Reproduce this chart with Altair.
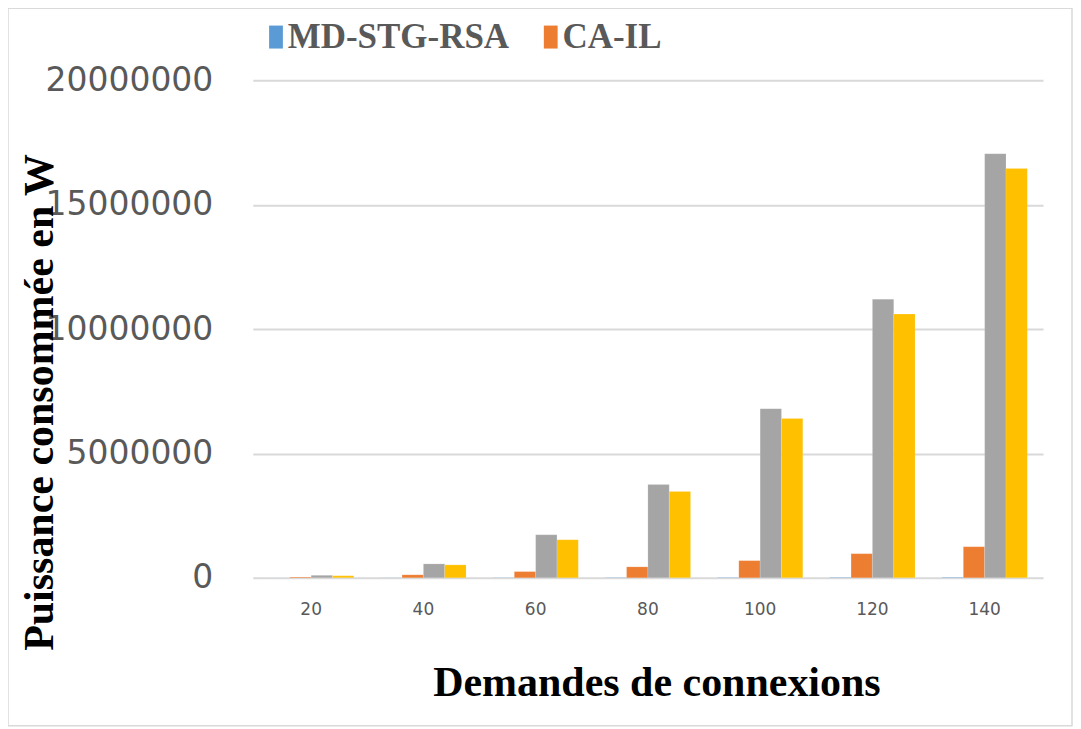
import altair as alt
import pandas as pd

categories = ["20", "40", "60", "80", "100", "120", "140"]
series = ["MD-STG-RSA", "CA-IL", "S3", "S4"]
md_stg_rsa = [3000, 6000, 9000, 12000, 15000, 18000, 21000]
ca_il = [30000, 120000, 250000, 440000, 690000, 970000, 1250000]
s3 = [100000, 560000, 1730000, 3750000, 6800000, 11200000, 17050000]
s4 = [80000, 520000, 1530000, 3470000, 6400000, 10600000, 16450000]
y_ticks = [0, 5000000, 10000000, 15000000, 20000000]
colors = ["#5b9bd5", "#ed7d31", "#a5a5a5", "#ffc000"]

rows = []
for name, vals in zip(series, [md_stg_rsa, ca_il, s3, s4]):
    for c, v in zip(categories, vals):
        rows.append({"cat": c, "series": name, "value": v})
df = pd.DataFrame(rows)

x_enc = alt.X("cat:N", sort=categories,
              scale=alt.Scale(paddingInner=0.24, paddingOuter=0.14),
              axis=alt.Axis(title="Demandes de connexions", labelFont="DejaVu Sans",
                            labelFontSize=17, labelColor="#595959", labelPadding=24,
                            labelAngle=0, ticks=False, domain=False, grid=False,
                            titleFont="Liberation Serif", titleFontWeight="bold",
                            titleFontSize=42, titleColor="black",
                            titleX=404, titleY=105, titleAlign="center",
                            titleBaseline="middle"))
y_enc = alt.Y("value:Q", scale=alt.Scale(domain=[0, 20000000], nice=False),
              axis=alt.Axis(title="Puissance consommée en W", values=y_ticks, format="d",
                            labelFont="DejaVu Sans", labelFontSize=33,
                            labelColor="#595959", labelPadding=40, ticks=False,
                            domain=False, grid=True, gridColor="#d9d9d9", gridWidth=2,
                            titleFont="Liberation Serif", titleFontWeight="bold",
                            titleFontSize=42, titleColor="black", titleAngle=270,
                            titleX=-213, titleY=322, titleAlign="center",
                            titleBaseline="middle"))

bars = alt.Chart(df).mark_bar(stroke="#ffffff", strokeOpacity=0.3, strokeWidth=0.5).encode(
    x=x_enc,
    xOffset=alt.XOffset("series:N", sort=series, scale=alt.Scale(domain=series)),
    y=y_enc,
    color=alt.Color("series:N", sort=series,
                    scale=alt.Scale(domain=series, range=colors),
                    legend=alt.Legend(values=["MD-STG-RSA", "CA-IL"], title=None,
                                      orient="none", legendX=0, legendY=-61,
                                      direction="horizontal", padding=0,
                                      symbolType="M-0.1,-1H1.1V1H-0.1Z",
                                      symbolSize=529, symbolStrokeWidth=0,
                                      labelFont="Liberation Serif",
                                      labelFontWeight="bold", labelFontSize=35,
                                      labelColor="#595959", labelOffset=0,
                                      labelLimit=0, columnPadding=18)),
)

frame = alt.Chart(pd.DataFrame({"a": [0]})).mark_rect(
    fill=None, stroke="#d9d9d9", strokeWidth=1.5).encode(
    x=alt.value(-245), x2=alt.value(820), y=alt.value(-72), y2=alt.value(646))

chart = alt.layer(frame, bars).properties(
    width=791, height=498,
    autosize=alt.AutoSizeParams(type="none"),
    padding={"left": 245, "top": 72, "right": 30, "bottom": 150},
).configure_view(stroke=None)

chart.save("out.html", embed_options={"renderer": "svg", "actions": False})
